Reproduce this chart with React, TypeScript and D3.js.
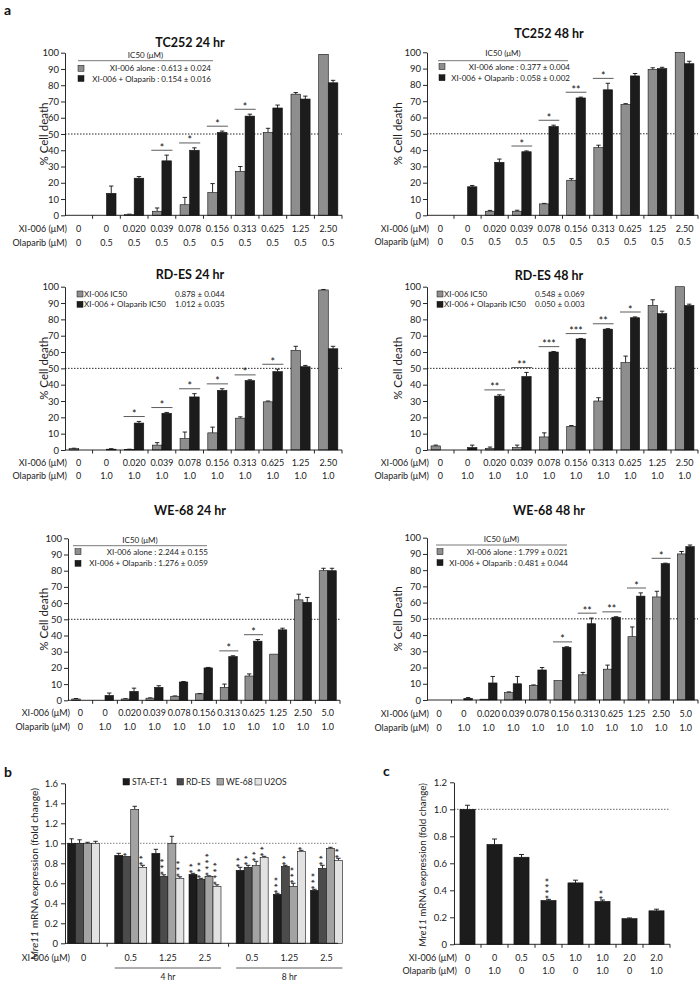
import * as d3 from "d3";
import React, { useEffect, useRef } from "react";

// ---------- panel a : dose tables ----------
const xiDose10 = ["0", "0", "0.020", "0.039", "0.078", "0.156", "0.313", "0.625", "1.25", "2.50"];
const xiDose11 = ["0", "0", "0.020", "0.039", "0.078", "0.156", "0.313", "0.625", "1.25", "2.50", "5.0"];
const olaDose05 = ["0", "0.5", "0.5", "0.5", "0.5", "0.5", "0.5", "0.5", "0.5", "0.5"];
const olaDose10 = ["0", "1.0", "1.0", "1.0", "1.0", "1.0", "1.0", "1.0", "1.0", "1.0"];
const olaDose10b = ["0", "1.0", "1.0", "1.0", "1.0", "1.0", "1.0", "1.0", "1.0", "1.0", "1.0"];

// TC252 24 hr
const tc24Alone = [0, 0, 0.5, 2.5, 6.5, 14, 27, 51, 74.5, 99];
const tc24AloneErr = [0, 0, 0.2, 2, 4.5, 5.5, 3, 2.5, 1, 0];
const tc24Combo = [0, 13.5, 22.8, 33.5, 40, 51, 61, 66, 71.5, 81.5];
const tc24ComboErr = [0, 4.5, 1, 3.5, 1.5, 0.8, 1.2, 1.8, 1.8, 1.5];
const tc24Sig = ["", "", "", "*", "*", "*", "*", "", "", ""];
const tc24IC50 = ["0.613 ± 0.024", "0.154 ± 0.016"];

// TC252 48 hr
const tc48Alone = [0, 0, 2.5, 2.5, 7, 21.5, 41.5, 68, 89.5, 100];
const tc48AloneErr = [0, 0, 0.5, 0.6, 0.3, 1, 1.5, 0.5, 1, 0];
const tc48Combo = [0, 17.5, 32.5, 39, 54.5, 72, 77, 85.5, 90, 93];
const tc48ComboErr = [0, 0.8, 2, 0.5, 0.8, 0.5, 4, 1.5, 0.8, 1.5];
const tc48Sig = ["", "", "", "*", "*", "**", "*", "", "", ""];
const tc48IC50 = ["0.377 ± 0.004", "0.058 ± 0.002"];

// RD-ES 24 hr
const rd24Alone = [0.8, 0, 0.3, 3, 7, 10.5, 19.5, 29.5, 61, 98];
const rd24AloneErr = [0.3, 0, 0.2, 1.5, 4, 3.5, 0.8, 0.5, 2.5, 0.3];
const rd24Combo = [0, 0.5, 16.5, 22.5, 32.5, 36.5, 42.5, 48, 51, 62];
const rd24ComboErr = [0, 0.3, 1, 0.5, 2, 1, 0.5, 1.5, 0.8, 1.5];
const rd24Sig = ["", "", "*", "*", "*", "*", "*", "*", "", ""];
const rd24IC50 = ["0.878 ± 0.044", "1.012 ± 0.035"];

// RD-ES 48 hr
const rd48Alone = [2.5, 0, 1, 1.5, 8, 14.5, 30, 53.5, 88.5, 100];
const rd48AloneErr = [0.5, 0, 0.8, 1.5, 2.5, 0.5, 2, 4, 3.5, 0];
const rd48Combo = [0, 1.5, 33, 45, 60, 68, 74, 81, 83.5, 88.5];
const rd48ComboErr = [0, 1.5, 0.8, 2.5, 0.3, 0.3, 0.3, 0.5, 1.5, 0.8];
const rd48Sig = ["", "", "**", "**", "***", "***", "**", "*", "", ""];
const rd48IC50 = ["0.548 ± 0.069", "0.050 ± 0.003"];

// WE-68 24 hr
const we24Alone = [0.8, 0, 0.8, 1.3, 2.5, 4, 8, 15, 28.5, 62, 80];
const we24AloneErr = [0.3, 0, 0.2, 0.2, 0.2, 0.2, 2, 1.3, 0, 3.5, 1.5];
const we24Combo = [0, 3, 5.5, 8, 11.3, 20, 27, 36.5, 43.5, 60.5, 80];
const we24ComboErr = [0, 1.5, 2, 1, 0.3, 0.3, 0.5, 1, 1, 3, 1.5];
const we24Sig = ["", "", "", "", "", "", "*", "*", "", "", ""];
const we24IC50 = ["2.244 ± 0.155", "1.276 ± 0.059"];

// WE-68 48 hr
const we48Alone = [0, 0, 0.5, 4.5, 9, 12, 15.5, 19, 39, 63.5, 90];
const we48AloneErr = [0, 0, 0, 0.5, 0.3, 0, 1.5, 2.5, 6, 3.5, 1.5];
const we48Combo = [0, 1, 10.5, 10, 18.5, 32.5, 47, 51, 64, 84, 94.5];
const we48ComboErr = [0, 0.5, 4, 4.5, 1.5, 0.3, 3.5, 0.3, 2, 0.3, 1];
const we48Sig = ["", "", "", "", "", "*", "**", "**", "*", "*", ""];
const we48IC50 = ["1.799 ± 0.021", "0.481 ± 0.044"];

const ic50Names = ["XI-006 alone", "XI-006 + Olaparib"];
const plainNames = ["XI-006 IC50", "XI-006 + Olaparib IC50"];

// ---------- panel b ----------
const bSeries = ["STA-ET-1", "RD-ES", "WE-68", "U2OS"];
const bDose = ["0", "0.5", "1.25", "2.5", "0.5", "1.25", "2.5"];
const bTime = ["", "4 hr", "4 hr", "4 hr", "8 hr", "8 hr", "8 hr"];
const bSTA = [1.0, 0.88, 0.9, 0.69, 0.73, 0.49, 0.53];
const bSTAErr = [0.045, 0.02, 0.04, 0.01, 0.03, 0.01, 0.01];
const bRD = [1.0, 0.87, 0.67, 0.64, 0.76, 0.77, 0.75];
const bRDErr = [0.035, 0, 0.015, 0.01, 0.02, 0.01, 0.03];
const bWE = [1.0, 1.34, 1.0, 0.67, 0.78, 0.57, 0.95];
const bWEErr = [0.01, 0.03, 0.07, 0.005, 0.04, 0.03, 0.01];
const bU2 = [1.0, 0.76, 0.65, 0.57, 0.86, 0.92, 0.83];
const bU2Err = [0.02, 0.02, 0.015, 0.015, 0.01, 0.01, 0.02];
const bSTASig = ["", "", "", "**", "**", "***", "***"];
const bRDSig = ["", "*", "***", "***", "**", "**", "**"];
const bWESig = ["", "", "", "****", "**", "***", ""];
const bU2Sig = ["", "**", "***", "****", "**", "*", "**"];
const bTicks = [0, 0.2, 0.4, 0.6, 0.8, 1.0, 1.2, 1.4, 1.6];

// ---------- panel c ----------
const cXi = ["0", "0", "0.5", "0.5", "1.0", "1.0", "2.0", "2.0"];
const cOla = ["0", "1.0", "0", "1.0", "0", "1.0", "0", "1.0"];
const cVal = [1.0, 0.74, 0.645, 0.325, 0.455, 0.318, 0.19, 0.248];
const cErr = [0.03, 0.04, 0.02, 0.008, 0.02, 0.01, 0.005, 0.012];
const cSig = ["", "", "", "****", "", "**", "", ""];
const cTicks = [0, 0.2, 0.4, 0.6, 0.8, 1.0, 1.2];

const FONT = "Lato, 'Open Sans', sans-serif";
const INK = "#222";
const GRAY = "#8e8e8e";
const DARK = "#1c1c1c";
const bColors = ["#1c1c1c", "#4b4b4b", "#a3a3a3", "#e2e2e2"];

const panelsA = [
  {
    title: "TC252 24 hr", yLabel: "% Cell death", xi: xiDose10, ola: olaDose05,
    alone: tc24Alone, aloneErr: tc24AloneErr, combo: tc24Combo, comboErr: tc24ComboErr, sig: tc24Sig,
    legend: { kind: "ic50", names: ic50Names, values: tc24IC50, lx0: 78, lx1: 213, headY: 55, lineY: 60.7, sx: 78, tx: 211, rows: [68.3, 78.5] },
    x0: 65, x1: 342, yTop: 52.7, yBot: 215.3, tx: 190, ty: 42, r1: 228, r2: 242, ytx: 43,
  },
  {
    title: "TC252 48 hr", yLabel: "% Cell death", xi: xiDose10, ola: olaDose05,
    alone: tc48Alone, aloneErr: tc48AloneErr, combo: tc48Combo, comboErr: tc48ComboErr, sig: tc48Sig,
    legend: { kind: "ic50", names: ic50Names, values: tc48IC50, lx0: 438, lx1: 568, headY: 53, lineY: 60.7, sx: 439, tx: 570, rows: [66.7, 77.7] },
    x0: 427, x1: 698, yTop: 52.3, yBot: 215.3, tx: 549, ty: 33, r1: 228, r2: 241, ytx: 397,
  },
  {
    title: "RD-ES 24 hr", yLabel: "% Cell death", xi: xiDose10, ola: olaDose10,
    alone: rd24Alone, aloneErr: rd24AloneErr, combo: rd24Combo, comboErr: rd24ComboErr, sig: rd24Sig,
    legend: { kind: "plain", names: plainNames, values: rd24IC50, sx: 77, nx: 84, vx: 175, rows: [294, 304.3] },
    x0: 65, x1: 342, yTop: 286.7, yBot: 450, tx: 190, ty: 274, r1: 462.7, r2: 475.7, ytx: 43,
  },
  {
    title: "RD-ES 48 hr", yLabel: "% Cell death", xi: xiDose10, ola: olaDose10,
    alone: rd48Alone, aloneErr: rd48AloneErr, combo: rd48Combo, comboErr: rd48ComboErr, sig: rd48Sig,
    legend: { kind: "plain", names: plainNames, values: rd48IC50, sx: 437, nx: 444, vx: 535, rows: [294, 304.3] },
    x0: 427, x1: 698, yTop: 286.7, yBot: 450, tx: 549, ty: 275, r1: 462.7, r2: 475.7, ytx: 397,
  },
  {
    title: "WE-68 24 hr", yLabel: "% Cell death", xi: xiDose11, ola: olaDose10b,
    alone: we24Alone, aloneErr: we24AloneErr, combo: we24Combo, comboErr: we24ComboErr, sig: we24Sig,
    legend: { kind: "ic50", names: ic50Names, values: we24IC50, lx0: 73, lx1: 207, headY: 540, lineY: 545.7, sx: 75, tx: 208, rows: [551.7, 563.3] },
    x0: 68, x1: 340, yTop: 538.3, yBot: 700.3, tx: 190, ty: 510, r1: 712.7, r2: 726.7, ytx: 43,
  },
  {
    title: "WE-68 48 hr", yLabel: "% Cell Death", xi: xiDose11, ola: olaDose10b,
    alone: we48Alone, aloneErr: we48AloneErr, combo: we48Combo, comboErr: we48ComboErr, sig: we48Sig,
    legend: { kind: "ic50", names: ic50Names, values: we48IC50, lx0: 436, lx1: 567, headY: 539, lineY: 545, sx: 437, tx: 568, rows: [551.7, 562.7] },
    x0: 427, x1: 698, yTop: 537.7, yBot: 700, tx: 549, ty: 510, r1: 713, r2: 727, ytx: 397,
  },
];

function styleAxis(ax: any, size: number) {
  ax.select(".domain").attr("stroke", "#111").attr("stroke-width", 0.9);
  ax.selectAll(".tick line").attr("stroke", "#111").attr("stroke-width", 0.9);
  ax.selectAll(".tick text").attr("font-family", FONT).attr("font-size", size).attr("fill", INK);
}

function errorBars(g: any, rows: any[], xc: (d: any) => number, y: any, cap: number) {
  const eb = rows.filter((d) => d.e > 0);
  g.selectAll(null).data(eb).join("line")
    .attr("x1", xc).attr("x2", xc)
    .attr("y1", (d: any) => y(d.v)).attr("y2", (d: any) => y(d.v + d.e))
    .attr("stroke", "#111").attr("stroke-width", 0.9);
  g.selectAll(null).data(eb).join("line")
    .attr("x1", (d: any) => xc(d) - cap).attr("x2", (d: any) => xc(d) + cap)
    .attr("y1", (d: any) => y(d.v + d.e)).attr("y2", (d: any) => y(d.v + d.e))
    .attr("stroke", "#111").attr("stroke-width", 0.9);
}

function drawDose(svg: any, p: any) {
  const g = svg.append("g");
  const n = p.xi.length;
  const x = d3.scaleBand<number>().domain(d3.range(n)).range([p.x0, p.x1]).paddingInner(0.31).paddingOuter(0.15);
  const y = d3.scaleLinear().domain([0, 100]).range([p.yBot, p.yTop]);
  const sub = d3.scaleBand<string>().domain(["alone", "combo"]).range([0, x.bandwidth()]);

  // title
  g.append("text").attr("x", p.tx).attr("y", p.ty).attr("dominant-baseline", "central")
    .attr("text-anchor", "middle").attr("font-family", FONT).attr("font-weight", "bold")
    .attr("font-size", 12.5).attr("fill", "#111").text(p.title);

  // 50% reference
  g.append("line").attr("x1", p.x0).attr("x2", p.x1).attr("y1", y(50)).attr("y2", y(50))
    .attr("stroke", "#111").attr("stroke-width", 0.9).attr("stroke-dasharray", "1.5,1.5");

  const rows = d3.range(n).flatMap((i) => [
    { i, key: "alone", v: p.alone[i], e: p.aloneErr[i] },
    { i, key: "combo", v: p.combo[i], e: p.comboErr[i] },
  ]);
  const xc = (d: any) => (x(d.i) as number) + (sub(d.key) as number) + sub.bandwidth() / 2;

  errorBars(g, rows, xc, y, 2.2);

  g.selectAll(null).data(rows.filter((d) => d.v > 0)).join("rect")
    .attr("x", (d: any) => (x(d.i) as number) + (sub(d.key) as number))
    .attr("y", (d: any) => y(d.v))
    .attr("width", sub.bandwidth())
    .attr("height", (d: any) => y(0) - y(d.v))
    .attr("fill", (d: any) => (d.key === "alone" ? GRAY : DARK))
    .attr("stroke", "#111").attr("stroke-width", 0.6);

  // significance brackets
  const sigRows = d3.range(n).filter((i) => p.sig[i]);
  sigRows.forEach((i) => {
    const top = Math.max(p.alone[i] + p.aloneErr[i], p.combo[i] + p.comboErr[i]) + 3;
    const ly = y(top);
    const bx = x(i) as number;
    g.append("line").attr("x1", bx - 1).attr("x2", bx + x.bandwidth() + 1).attr("y1", ly).attr("y2", ly)
      .attr("stroke", "#333").attr("stroke-width", 0.8);
    g.append("text").attr("x", bx + x.bandwidth() / 2).attr("y", ly + 1.5).attr("text-anchor", "middle")
      .attr("font-family", FONT).attr("font-size", 10.5).attr("fill", "#111").text(p.sig[i]);
  });

  // y axis
  const ay = g.append("g").attr("transform", `translate(${p.x0},0)`)
    .call(d3.axisLeft(y).tickValues(d3.range(0, 101, 10)).tickSize(4).tickSizeOuter(0).tickPadding(2));
  styleAxis(ay, 9.5);

  // x axis line + category ticks
  g.append("line").attr("x1", p.x0).attr("x2", p.x1).attr("y1", y(0)).attr("y2", y(0))
    .attr("stroke", "#111").attr("stroke-width", 0.9);
  const step = x.step();
  const bounds = d3.range(1, n).map((i) => (x(i) as number) - (step * x.paddingInner()) / 2).concat([p.x1]);
  g.selectAll(null).data(bounds).join("line")
    .attr("x1", (d: number) => d).attr("x2", (d: number) => d)
    .attr("y1", y(0)).attr("y2", y(0) + 3.5).attr("stroke", "#111").attr("stroke-width", 0.9);

  // dose table
  const lbl = (yy: number, txt: string) =>
    g.append("text").attr("x", p.x0 + 2).attr("y", yy).attr("text-anchor", "end").attr("dominant-baseline", "central")
      .attr("font-family", FONT).attr("font-size", 9).attr("fill", INK).text(txt);
  lbl(p.r1, "XI-006 (μM)");
  lbl(p.r2, "Olaparib (μM)");
  [[p.xi, p.r1], [p.ola, p.r2]].forEach(([arr, yy]: any) => {
    g.selectAll(null).data(arr).join("text")
      .attr("x", (_: any, i: number) => (x(i) as number) + x.bandwidth() / 2).attr("y", yy)
      .attr("text-anchor", "middle").attr("dominant-baseline", "central")
      .attr("font-family", FONT).attr("font-size", 9).attr("fill", INK).text((d: string) => d);
  });

  // y title
  g.append("text").attr("transform", `translate(${p.ytx},${(p.yTop + p.yBot) / 2}) rotate(-90)`)
    .attr("text-anchor", "middle").attr("dominant-baseline", "central")
    .attr("font-family", FONT).attr("font-size", 11.5).attr("fill", INK).text(p.yLabel);

  // legend
  const L = p.legend;
  const fills = [GRAY, DARK];
  if (L.kind === "ic50") {
    g.append("text").attr("x", (L.lx0 + L.lx1) / 2).attr("y", L.headY).attr("text-anchor", "middle")
      .attr("dominant-baseline", "central").attr("font-family", FONT).attr("font-size", 8).attr("fill", INK).text("IC50 (μM)");
    g.append("line").attr("x1", L.lx0).attr("x2", L.lx1).attr("y1", L.lineY).attr("y2", L.lineY)
      .attr("stroke", "#555").attr("stroke-width", 0.8);
    L.rows.forEach((ry: number, k: number) => {
      g.append("rect").attr("x", L.sx).attr("y", ry - 3).attr("width", 6).attr("height", 6)
        .attr("fill", fills[k]).attr("stroke", "#111").attr("stroke-width", 0.5);
      g.append("text").attr("x", L.tx).attr("y", ry).attr("text-anchor", "end").attr("dominant-baseline", "central")
        .attr("font-family", FONT).attr("font-size", 8).attr("fill", INK).text(`${L.names[k]} : ${L.values[k]}`);
    });
  } else {
    L.rows.forEach((ry: number, k: number) => {
      g.append("rect").attr("x", L.sx).attr("y", ry - 3).attr("width", 6).attr("height", 6)
        .attr("fill", fills[k]).attr("stroke", "#111").attr("stroke-width", 0.5);
      g.append("text").attr("x", L.nx).attr("y", ry).attr("dominant-baseline", "central")
        .attr("font-family", FONT).attr("font-size", 8).attr("fill", INK).text(L.names[k]);
      g.append("text").attr("x", L.vx).attr("y", ry).attr("dominant-baseline", "central")
        .attr("font-family", FONT).attr("font-size", 8).attr("fill", INK).text(L.values[k]);
    });
  }
}

// asterisks stacked upward from the bar top, as one rotated string
function stackStars(g: any, cx: number, baseY: number, s: string, size: number, spacing: number) {
  g.append("text")
    .attr("transform", `translate(${cx + 0.5 * size},${baseY}) rotate(-90)`)
    .attr("x", -1.5)
    .attr("font-family", FONT).attr("font-size", size).attr("letter-spacing", spacing)
    .attr("fill", "#111").text(s);
}

function mreLabel(g: any, x: number, y: number, size: number) {
  const t = g.append("text").attr("transform", `translate(${x},${y}) rotate(-90)`).attr("text-anchor", "middle")
    .attr("dominant-baseline", "central").attr("font-family", FONT).attr("font-size", size).attr("fill", INK);
  t.append("tspan").attr("font-style", "italic").text("Mre11");
  t.append("tspan").text(" mRNA expression  (fold change)");
}

function drawB(svg: any) {
  const g = svg.append("g");
  // slot index per group: extra gap whenever the time block changes
  let block = 0;
  const slots = bDose.map((_, i) => {
    if (i > 0 && bTime[i] !== bTime[i - 1]) block += 1;
    return i + 0.27 * block;
  });
  const x = d3.scaleLinear().domain([-0.5, (slots[slots.length - 1] as number) + 0.5]).range([65, 345]);
  const y = d3.scaleLinear().domain([0, 1.6]).range([943.3, 783.3]);
  const sub = d3.scaleBand<string>().domain(bSeries).range([-16, 16]);
  const vals = [bSTA, bRD, bWE, bU2];
  const errs = [bSTAErr, bRDErr, bWEErr, bU2Err];
  const sigs = [bSTASig, bRDSig, bWESig, bU2Sig];
  const rows = bDose.flatMap((_, i) => bSeries.map((s, k) => ({ i, s, k, v: vals[k][i], e: errs[k][i], sig: sigs[k][i] })));
  const xc = (d: any) => x(slots[d.i]) + (sub(d.s) as number) + sub.bandwidth() / 2;

  g.append("line").attr("x1", 65).attr("x2", 338).attr("y1", y(1)).attr("y2", y(1))
    .attr("stroke", "#777").attr("stroke-width", 0.9).attr("stroke-dasharray", "1.5,1.5");

  errorBars(g, rows, xc, y, 2.2);
  g.selectAll(null).data(rows).join("rect")
    .attr("x", (d: any) => x(slots[d.i]) + (sub(d.s) as number))
    .attr("y", (d: any) => y(d.v)).attr("width", sub.bandwidth())
    .attr("height", (d: any) => y(0) - y(d.v))
    .attr("fill", (d: any) => bColors[d.k]).attr("stroke", "#111").attr("stroke-width", 0.6);

  rows.filter((d) => d.sig).forEach((d) => stackStars(g, xc(d), y(d.v + d.e) - 1, d.sig, 10.5, 1.8));

  const ay = g.append("g").attr("transform", "translate(65,0)")
    .call(d3.axisLeft(y).tickValues(bTicks).tickSize(4).tickSizeOuter(0).tickPadding(3)
      .tickFormat((d: any) => (d === 0 ? "0" : d3.format(".1f")(d))));
  styleAxis(ay, 9.5);
  g.append("line").attr("x1", 65).attr("x2", 338).attr("y1", y(0)).attr("y2", y(0)).attr("stroke", "#111").attr("stroke-width", 0.9);
  const seps = slots.slice(1).map((s, i) => (s + slots[i]) / 2).filter((_, i) => bTime[i + 1] !== bTime[i]);
  g.selectAll(null).data(seps).join("line")
    .attr("x1", (d: number) => x(d)).attr("x2", (d: number) => x(d))
    .attr("y1", y(0)).attr("y2", y(0) + 3.5).attr("stroke", "#111").attr("stroke-width", 0.9);

  g.append("text").attr("x", 70).attr("y", 957.7).attr("text-anchor", "end").attr("dominant-baseline", "central")
    .attr("font-family", FONT).attr("font-size", 9).attr("fill", INK).text("XI-006 (μM)");
  g.selectAll(null).data(bDose).join("text")
    .attr("x", (_: any, i: number) => x(slots[i])).attr("y", 957.7).attr("text-anchor", "middle")
    .attr("dominant-baseline", "central").attr("font-family", FONT).attr("font-size", 9).attr("fill", INK)
    .text((d: string) => d);

  const times = Array.from(new Set(bTime.filter((t) => t)));
  times.forEach((t) => {
    const idx = bTime.map((v, i) => (v === t ? i : -1)).filter((i) => i >= 0);
    const xa = x(slots[idx[0]]) - 16;
    const xb = x(slots[idx[idx.length - 1]]) + 16;
    g.append("line").attr("x1", xa).attr("x2", xb).attr("y1", 968).attr("y2", 968).attr("stroke", "#333").attr("stroke-width", 0.8);
    g.append("text").attr("x", (xa + xb) / 2).attr("y", 976.5).attr("text-anchor", "middle").attr("dominant-baseline", "central")
      .attr("font-family", FONT).attr("font-size", 8.5).attr("fill", INK).text(t);
  });

  // legend
  const lx = [123, 177, 217, 255];
  bSeries.forEach((s, k) => {
    g.append("rect").attr("x", lx[k]).attr("y", 778.5).attr("width", 6.5).attr("height", 6.5)
      .attr("fill", bColors[k]).attr("stroke", "#111").attr("stroke-width", 0.5);
    g.append("text").attr("x", lx[k] + 9).attr("y", 782).attr("dominant-baseline", "central")
      .attr("font-family", FONT).attr("font-size", 8.5).attr("fill", INK).text(s);
  });

  mreLabel(g, 34, 874, 10.3);
}

function drawC(svg: any) {
  const g = svg.append("g");
  const x = d3.scaleBand<number>().domain(d3.range(cVal.length)).range([454, 670]).paddingInner(0.44).paddingOuter(0.22);
  const y = d3.scaleLinear().domain([0, 1.2]).range([944.3, 782.3]);
  const rows = cVal.map((v, i) => ({ i, v, e: cErr[i], sig: cSig[i] }));
  const xc = (d: any) => (x(d.i) as number) + x.bandwidth() / 2;

  g.append("line").attr("x1", 454).attr("x2", 670).attr("y1", y(1)).attr("y2", y(1))
    .attr("stroke", "#555").attr("stroke-width", 0.9).attr("stroke-dasharray", "1.5,1.5");
  errorBars(g, rows, xc, y, 2.5);
  g.selectAll(null).data(rows).join("rect")
    .attr("x", (d: any) => x(d.i) as number).attr("y", (d: any) => y(d.v))
    .attr("width", x.bandwidth()).attr("height", (d: any) => y(0) - y(d.v))
    .attr("fill", DARK).attr("stroke", "#111").attr("stroke-width", 0.6);
  rows.filter((d) => d.sig).forEach((d) => stackStars(g, xc(d), y(d.v + d.e) - 1.5, d.sig, 10.5, 1.2));

  const ay = g.append("g").attr("transform", "translate(454,0)")
    .call(d3.axisLeft(y).tickValues(cTicks).tickSize(4).tickSizeOuter(0).tickPadding(3)
      .tickFormat((d: any) => (d === 0 ? "0" : d3.format(".1f")(d))));
  styleAxis(ay, 9.5);
  g.append("line").attr("x1", 454).attr("x2", 670).attr("y1", y(0)).attr("y2", y(0)).attr("stroke", "#111").attr("stroke-width", 0.9);
  const bounds = d3.range(1, cVal.length).map((i) => (x(i) as number) - (x.step() * x.paddingInner()) / 2).concat([670]);
  g.selectAll(null).data(bounds).join("line")
    .attr("x1", (d: number) => d).attr("x2", (d: number) => d)
    .attr("y1", y(0)).attr("y2", y(0) + 3.5).attr("stroke", "#111").attr("stroke-width", 0.9);

  const lbl = (yy: number, txt: string) =>
    g.append("text").attr("x", 457).attr("y", yy).attr("text-anchor", "end").attr("dominant-baseline", "central")
      .attr("font-family", FONT).attr("font-size", 9).attr("fill", INK).text(txt);
  lbl(957.7, "XI-006 (μM)");
  lbl(970, "Olaparib (μM)");
  [[cXi, 957.7], [cOla, 970]].forEach(([arr, yy]: any) => {
    g.selectAll(null).data(arr).join("text")
      .attr("x", (_: any, i: number) => (x(i) as number) + x.bandwidth() / 2).attr("y", yy)
      .attr("text-anchor", "middle").attr("dominant-baseline", "central")
      .attr("font-family", FONT).attr("font-size", 9).attr("fill", INK).text((d: string) => d);
  });

  mreLabel(g, 421.7, 865, 9.8);
}

export default function App() {
  const svgRef = useRef<SVGSVGElement>(null);

  useEffect(() => {
    document.body.style.margin = "0";
    const svg = d3.select(svgRef.current);
    svg.selectAll("*").remove();
    svg.append("rect").attr("width", 700).attr("height", 981).attr("fill", "#fff");

    panelsA.forEach((p) => drawDose(svg, p));
    drawB(svg);
    drawC(svg);

    // panel letters
    [["a", 4, 15], ["b", 4, 777], ["c", 383, 776]].forEach(([t, lx, ly]: any) => {
      svg.append("text").attr("x", lx).attr("y", ly).attr("font-family", FONT).attr("font-weight", "bold")
        .attr("font-size", 14).attr("fill", "#111").text(t);
    });
  }, []);

  return <svg ref={svgRef} width={700} height={981} style={{ display: "block" }}></svg>;
}
